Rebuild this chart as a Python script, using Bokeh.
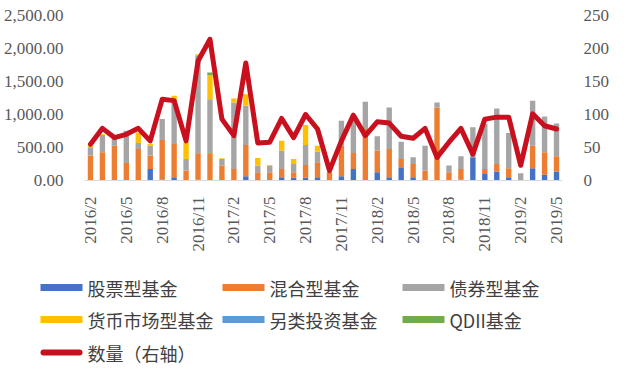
import math
from bokeh.plotting import figure
from bokeh.layouts import column
from bokeh.core.properties import value
from bokeh.models import (ColumnDataSource, Range1d, LinearAxis, FixedTicker,
                          NumeralTickFormatter, SingleIntervalTicker)
from bokeh.embed import file_html
from bokeh.resources import INLINE

months = ["2016/2", "2016/3", "2016/4", "2016/5", "2016/6", "2016/7", "2016/8", "2016/9",
          "2016/10", "2016/11", "2016/12", "2017/1", "2017/2", "2017/3", "2017/4", "2017/5",
          "2017/6", "2017/7", "2017/8", "2017/9", "2017/10", "2017/11", "2017/12", "2018/1",
          "2018/2", "2018/3", "2018/4", "2018/5", "2018/6", "2018/7", "2018/8", "2018/9",
          "2018/10", "2018/11", "2018/12", "2019/1", "2019/2", "2019/3", "2019/4", "2019/5"]

stock = [0, 0, 0, 0, 0, 176, 15, 50, 0, 10, 0, 0, 0, 65, 20, 0, 50, 40, 40, 50,
         0, 65, 176, 0, 126, 50, 201, 50, 0, 0, 0, 10, 352, 100, 136, 50, 0, 186, 86, 136]
hybrid = [377, 428, 528, 267, 478, 201, 599, 503, 151, 402, 402, 226, 176, 473, 106, 126,
          126, 86, 196, 227, 126, 463, 241, 780, 327, 428, 126, 201, 151, 1106, 126, 166,
          0, 76, 115, 136, 0, 342, 342, 231]
bond = [126, 261, 100, 488, 90, 151, 316, 669, 176, 1474, 830, 101, 1006, 594, 100, 100,
        277, 125, 302, 161, 0, 377, 488, 412, 216, 628, 261, 101, 377, 76, 100, 191,
        453, 679, 840, 533, 111, 679, 543, 498]
money = [25, 10, 10, 0, 161, 25, 0, 61, 251, 25, 362, 10, 60, 176, 116, 10,
         151, 76, 302, 90, 0, 0, 0, 0, 0, 0, 0, 0, 0, 0, 0, 0,
         0, 0, 0, 0, 0, 0, 0, 0]
alternative = [0] * 40
qdii = [0, 0, 0, 0, 0, 0, 0, 0, 0, 0, 41, 0, 0, 0, 0, 0, 0, 0, 0, 0,
        0, 0, 0, 0, 0, 0, 0, 0, 0, 0, 0, 0, 0, 0, 0, 0, 0, 0, 0, 0]
count = [55, 79, 65, 70, 79, 60, 123, 121, 60, 181, 214, 93, 68, 178, 57, 58,
         94, 65, 100, 78, 15, 60, 99, 68, 89, 87, 67, 64, 79, 35, 58, 79,
         40, 93, 96, 96, 23, 101, 83, 78]

series_names = ["股票型基金", "混合型基金", "债券型基金", "货币市场型基金", "另类投资基金", "QDII基金"]
series_keys = ["stock", "hybrid", "bond", "money", "alternative", "qdii"]
colors = ["#4472C4", "#ED7D31", "#A5A5A5", "#FFC000", "#5B9BD5", "#70AD47"]
line_label = "数量（右轴）"
line_color = "#C8101E"

idx = list(range(len(months)))
source = ColumnDataSource(dict(x=idx, month=months, stock=stock, hybrid=hybrid, bond=bond,
                               money=money, alternative=alternative, qdii=qdii, count=count))

p = figure(width=612, height=270, output_backend="svg", toolbar_location=None,
           x_range=Range1d(-0.5, len(months) - 0.5), y_range=Range1d(0, 2500),
           min_border_left=82, min_border_right=48, min_border_top=15, min_border_bottom=90)
p.frame_align = False
p.outline_line_color = None
p.xgrid.visible = False
p.ygrid.visible = False

bars = p.vbar_stack(series_keys, x="x", width=0.45, color=colors, source=source, line_width=0)

p.extra_y_ranges = {"right": Range1d(0, 250)}
ln = p.line("x", "count", source=source, y_range_name="right", color=line_color,
            line_width=5, line_join="round", line_cap="round")

font = "Liberation Serif"
tick_color = "#595959"

xa = p.xaxis[0]
xa.ticker = FixedTicker(ticks=list(range(0, len(months), 3)))
xa.major_label_overrides = {i: months[i] for i in range(0, len(months), 3)}
xa.major_label_orientation = math.pi / 2
xa.axis_line_color = "#D9D9D9"
xa.axis_line_width = 1
xa.major_tick_line_color = None
xa.minor_tick_line_color = None
xa.major_label_standoff = 10
xa.major_label_text_font = font
xa.major_label_text_font_size = "17px"
xa.major_label_text_color = tick_color

ya = p.yaxis[0]
ya.ticker = SingleIntervalTicker(interval=500)
ya.formatter = NumeralTickFormatter(format="0,0.00")
ya.axis_line_color = None
ya.major_tick_line_color = None
ya.minor_tick_line_color = None
ya.major_label_standoff = 15
ya.major_label_text_font = font
ya.major_label_text_font_size = "17px"
ya.major_label_text_color = tick_color

ra = LinearAxis(y_range_name="right", ticker=SingleIntervalTicker(interval=50))
ra.axis_line_color = None
ra.major_tick_line_color = None
ra.minor_tick_line_color = None
ra.major_label_standoff = 15
ra.major_label_text_font = font
ra.major_label_text_font_size = "17px"
ra.major_label_text_color = tick_color
p.add_layout(ra, "right")

# ---- legend panel (pixel coordinates, y downward) ----
LW, LH = 612, 99
lg = figure(width=LW, height=LH, output_backend="svg", toolbar_location=None,
            x_range=Range1d(0, LW), y_range=Range1d(LH, 0),
            x_axis_location=None, y_axis_location=None,
            min_border_left=0, min_border_right=0, min_border_top=0, min_border_bottom=0)
lg.frame_align = False
lg.xgrid.visible = False
lg.ygrid.visible = False
lg.outline_line_color = None

col_x = [40, 222, 402]
row_y = [17, 49, 82]
sw_w, sw_h, gap = 42, 7, 5

sx, sy, sc, tx, ty, tt = [], [], [], [], [], []
for i, (name, c) in enumerate(zip(series_names, colors)):
    r, k = divmod(i, 3)
    sx.append(col_x[k] + sw_w / 2)
    sy.append(row_y[r])
    sc.append(c)
    tx.append(col_x[k] + sw_w + gap)
    ty.append(row_y[r])
    tt.append(name)
lg.rect(x=sx, y=sy, width=sw_w, height=sw_h, color=sc, line_width=0)
lg.line(x=[col_x[0] + 3, col_x[0] + sw_w - 3], y=[row_y[2], row_y[2]], color=line_color,
        line_width=6, line_cap="round")
tx.append(col_x[0] + sw_w + gap)
ty.append(row_y[2])
tt.append(line_label)
lg.text(x=tx, y=ty, text=tt, text_font=value("Noto Sans CJK SC"), text_font_size="18px",
        text_color="#404040", text_baseline="middle", text_align="left")

open("out.html", "w").write(file_html(column(p, lg, spacing=0), INLINE))
